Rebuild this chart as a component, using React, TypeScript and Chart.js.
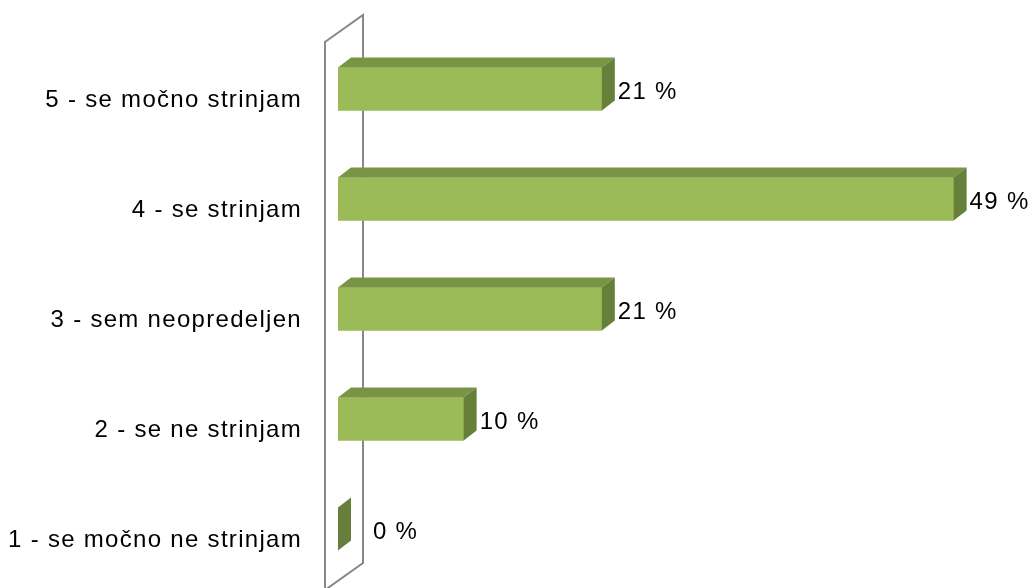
import React, { useEffect, useRef } from "react";
import { Chart, registerables } from "chart.js";

Chart.register(...registerables);

const categories = [
  "5 - se močno strinjam",
  "4 - se strinjam",
  "3 - sem neopredeljen",
  "2 - se ne strinjam",
  "1 - se močno ne strinjam",
];
const values = [21, 49, 21, 10, 0];
const valueLabels = ["21 %", "49 %", "21 %", "10 %", "0 %"];

const FRONT = "#9BBB59";
const TOP = "#7A9446";
const SIDE = "#667F3A";
const DX = 13;
const DY = 10;
const FONT = '"Liberation Sans", Arial, sans-serif';
const SPACING = "1.3px";

const spacingPlugin = {
  id: "spacing",
  beforeUpdate(c: any) {
    c.ctx.letterSpacing = SPACING;
  },
  beforeLayout(c: any) {
    c.ctx.letterSpacing = SPACING;
  },
  beforeDraw(c: any) {
    c.ctx.letterSpacing = SPACING;
  },
};

const wallPlugin = {
  id: "wall",
  beforeDatasetsDraw(c: any) {
    const ctx = c.ctx;
    const { left, top, bottom } = c.chartArea;
    ctx.save();
    ctx.strokeStyle = "#888888";
    ctx.lineWidth = 2;
    ctx.beginPath();
    ctx.moveTo(left - 13, bottom + 6);
    ctx.lineTo(left - 13, top + 8);
    ctx.lineTo(left + 25, top - 19);
    ctx.lineTo(left + 25, bottom - 21);
    ctx.lineTo(left - 13, bottom + 6);
    ctx.stroke();
    ctx.restore();
  },
};

const threeDPlugin = {
  id: "threeD",
  afterDatasetsDraw(c: any) {
    const ctx = c.ctx;
    const meta = c.getDatasetMeta(0);
    ctx.save();
    meta.data.forEach((bar: any, i: number) => {
      const p = bar.getProps(["x", "y", "base", "height"], true);
      const x0 = p.base;
      const x1 = p.x;
      const t = p.y - p.height / 2;
      const b = p.y + p.height / 2;
      if (x1 > x0 + 0.5) {
        ctx.fillStyle = TOP;
        ctx.beginPath();
        ctx.moveTo(x0, t);
        ctx.lineTo(x0 + DX, t - DY);
        ctx.lineTo(x1 + DX, t - DY);
        ctx.lineTo(x1, t);
        ctx.closePath();
        ctx.fill();
      }
      ctx.fillStyle = SIDE;
      ctx.beginPath();
      ctx.moveTo(x1, t);
      ctx.lineTo(x1 + DX, t - DY);
      ctx.lineTo(x1 + DX, b - DY);
      ctx.lineTo(x1, b);
      ctx.closePath();
      ctx.fill();

      ctx.fillStyle = "#000";
      ctx.font = `24px ${FONT}`;
      ctx.textAlign = "left";
      ctx.textBaseline = "middle";
      ctx.fillText(valueLabels[i], Math.max(x1 + 16, x0 + 35), p.y + 3);
    });
    ctx.restore();
  },
};

export default function App() {
  const ref = useRef<HTMLCanvasElement>(null);
  useEffect(() => {
    if (!ref.current) return;
    const chart = new Chart(ref.current, {
      type: "bar",
      data: {
        labels: categories,
        datasets: [
          {
            data: values,
            backgroundColor: FRONT,
            borderWidth: 0,
            barThickness: 43,
          },
        ],
      },
      options: {
        indexAxis: "y",
        animation: false,
        responsive: false,
        devicePixelRatio: 1,
        layout: { padding: { top: 34, bottom: 4, left: 0, right: 1 } },
        plugins: {
          legend: { display: false },
          tooltip: { enabled: false },
        },
        scales: {
          x: { display: false, min: 0, max: 55 },
          y: {
            grid: { display: false, drawTicks: false },
            border: { display: false },
            ticks: {
              color: "#000",
              font: { size: 24, family: FONT },
              padding: 36,
              labelOffset: 11,
            },
            afterFit(s: any) {
              s.width = 338;
              s.paddingTop = 0;
              s.paddingBottom = 0;
            },
          },
        },
      },
      plugins: [spacingPlugin, wallPlugin, threeDPlugin],
    } as any);
    return () => chart.destroy();
  }, []);
  return (
    <div style={{ position: "fixed", left: 0, top: 0, width: 1030, height: 588, background: "#fff" }}>
      <canvas ref={ref} width={1030} height={588} style={{ width: 1030, height: 588 }} />
    </div>
  );
}
